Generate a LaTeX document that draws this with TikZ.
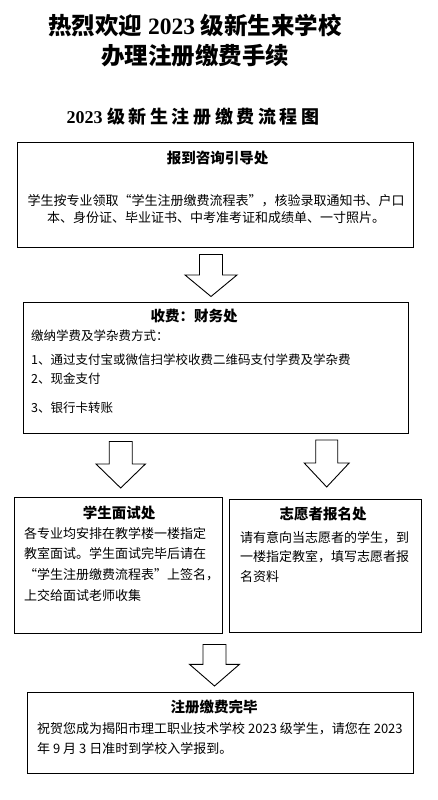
\documentclass[tikz,border=0pt]{standalone}
\usepackage{fontspec}
\setmainfont{Noto Sans CJK SC}
\newfontfamily\lserif{Liberation Serif}
\begin{document}
\begin{tikzpicture}[x=1pt,y=-1pt,
  box/.style={draw, line width=1.1pt, inner sep=0pt, anchor=north west},
  ttl/.style={font=\fontsize{14.5}{17}\selectfont\bfseries, inner sep=0pt},
  body/.style={font=\fontsize{13}{20.7}\selectfont, inner sep=0pt, align=left, anchor=north west},
  barrow/.style={draw, line width=0.9pt, line join=miter},
  pics/blockarrow/.style n args={4}{code={\draw[barrow] (-#1,0) -- (-#1,#3) -- (-#2,#3) -- (0,#4) -- (#2,#3) -- (#1,#3) -- (#1,0) -- cycle;}}
]
\useasboundingbox (0,0) rectangle (438,800);

% titles
\node[font=\fontsize{23.5}{26}\selectfont\bfseries, inner sep=0pt] (t1) at (195,25) {热烈欢迎{\lserif\bfseries\ 2023\ }级新生来学校};
\node[font=\fontsize{23.5}{26}\selectfont\bfseries, inner sep=0pt] (t2) at (195,56) {办理注册缴费手续};
\node[font=\fontsize{18}{20}\selectfont\bfseries, inner sep=0pt] (st) at (193,117) {{\lserif\bfseries 2023\ }{\addfontfeature{LetterSpace=20}级新生注册缴费流程图}};

% boxes
\node[box, minimum width=395.7pt, minimum height=105pt] (b1) at (17.3,141.7) {};
\node[box, minimum width=385.3pt, minimum height=131.3pt] (b2) at (22.7,301.7) {};
\node[box, minimum width=208.3pt, minimum height=135.7pt] (b3) at (14,497) {};
\node[box, minimum width=191.7pt, minimum height=133.5pt] (b4) at (229,498.5) {};
\node[box, minimum width=385.5pt, minimum height=81pt] (b5) at (27,692) {};

% box headings
\node[ttl] (h1) at (217.6,158) {报到咨询引导处};
\node[ttl] (h2) at (194,316) {收费：财务处};
\node[ttl] (h3) at (119,513) {学生面试处};
\node[ttl] (h4) at (323,514) {志愿者报名处};
\node[ttl] (h5) at (214,707) {注册缴费完毕};

% box texts
\node[body, align=center, anchor=north, font=\fontsize{13}{17.5}\selectfont] (x1) at (216,194)
  {学生按专业领取“学生注册缴费流程表”，核验录取通知书、户口\\本、身份证、毕业证书、中考准考证和成绩单、一寸照片。};
\node[body, font=\fontsize{12.5}{18.5}\selectfont] (x2) at (31,329.4)
  {缴纳学费及学杂费方式：\\[6pt]1、通过支付宝或微信扫学校收费二维码支付学费及学杂费\\2、现金支付\\[10.5pt]3、银行卡转账};
\node[body] (x3) at (24,527)
  {各专业均安排在教学楼一楼指定\\教室面试。学生面试完毕后请在\\“学生注册缴费流程表”上签名，\\上交给面试老师收集};
\node[body, font=\fontsize{13}{19.7}\selectfont] (x4) at (240,531)
  {请有意向当志愿者的学生，到\\一楼指定教室，填写志愿者报\\名资料};
\node[body, font=\fontsize{13}{20}\selectfont] (x5) at (37,722)
  {祝贺您成为揭阳市理工职业技术学校 2023 级学生，请您在 2023\\年 9 月 3 日准时到学校入学报到。};

% block arrows
\coordinate (a1) at (211,254.5);
\coordinate (a2) at (120.7,441.5);
\coordinate (a3) at (326.7,440);
\coordinate (a4) at (214.5,644.5);
\pic at (a1) {blockarrow={11.5}{26}{20.5}{42}};
\pic at (a2) {blockarrow={11.5}{24.7}{22.5}{46.5}};
\pic at (a3) {blockarrow={11}{22.5}{23}{47}};
\pic at (a4) {blockarrow={11.5}{25}{19.8}{41.5}};
\end{tikzpicture}
\end{document}
